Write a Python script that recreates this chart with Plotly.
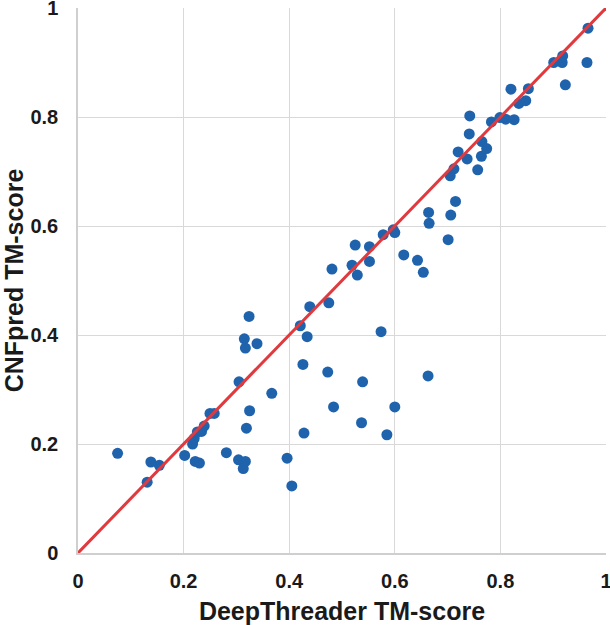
import plotly.graph_objects as go

# DeepThreader TM-score (x) vs CNFpred TM-score (y)
deepthreader = [0.075, 0.138, 0.154, 0.131, 0.202, 0.217, 0.220, 0.222, 0.230, 0.226,
                0.234, 0.239, 0.250, 0.258, 0.281, 0.304, 0.317, 0.313, 0.305, 0.324,
                0.315, 0.317, 0.339, 0.325, 0.319, 0.367, 0.396, 0.405, 0.428, 0.426,
                0.421, 0.434, 0.439, 0.473, 0.475, 0.484, 0.481, 0.537, 0.539, 0.574,
                0.585, 0.600, 0.663, 0.519, 0.525, 0.529, 0.552, 0.552, 0.578, 0.600,
                0.597, 0.617, 0.643, 0.654, 0.664, 0.665, 0.701, 0.706, 0.715, 0.705,
                0.712, 0.720, 0.737, 0.757, 0.741, 0.742, 0.764, 0.774, 0.765, 0.783,
                0.799, 0.810, 0.826, 0.820, 0.835, 0.848, 0.853, 0.901, 0.917, 0.918,
                0.923, 0.964, 0.966]
cnfpred = [0.183, 0.167, 0.161, 0.130, 0.179, 0.200, 0.210, 0.168, 0.165, 0.222,
           0.223, 0.233, 0.256, 0.256, 0.184, 0.171, 0.168, 0.155, 0.314, 0.434,
           0.393, 0.376, 0.384, 0.261, 0.229, 0.293, 0.174, 0.123, 0.220, 0.346,
           0.417, 0.397, 0.452, 0.332, 0.459, 0.268, 0.521, 0.239, 0.314, 0.406,
           0.217, 0.268, 0.325, 0.528, 0.565, 0.510, 0.562, 0.535, 0.584, 0.588,
           0.593, 0.547, 0.537, 0.515, 0.625, 0.605, 0.575, 0.620, 0.645, 0.692,
           0.705, 0.736, 0.723, 0.703, 0.769, 0.802, 0.728, 0.742, 0.755, 0.791,
           0.799, 0.796, 0.795, 0.851, 0.825, 0.830, 0.852, 0.900, 0.900, 0.912,
           0.859, 0.900, 0.963]

diag = [0, 1]
tick_vals = [0, 0.2, 0.4, 0.6, 0.8, 1]
tick_text = ["0", "0.2", "0.4", "0.6", "0.8", "1"]

FONT = "Liberation Sans, Arial, sans-serif"

fig = go.Figure()
fig.add_trace(go.Scatter(
    x=deepthreader, y=cnfpred, mode="markers",
    marker=dict(color="#1f63ad", size=11, line=dict(width=0)),
    cliponaxis=False, showlegend=False,
))
fig.add_trace(go.Scatter(
    x=diag, y=diag, mode="lines",
    line=dict(color="#e0393e", width=3),
    cliponaxis=False, showlegend=False,
))

axis_common = dict(
    range=[0, 1], tickvals=tick_vals, ticktext=tick_text,
    showgrid=True, gridcolor="#d9d9d9", gridwidth=1,
    zeroline=False, showline=True, linecolor="#cfcfcf", linewidth=1.5,
    ticks="", tickfont=dict(family=FONT, size=20, color="#1a1a1a", weight="bold"),
    automargin=False, ticklabeloverflow="allow",
)

fig.update_layout(
    width=610, height=625,
    margin=dict(l=78, r=4, t=8, b=72),
    paper_bgcolor="white", plot_bgcolor="white",
    font=dict(family=FONT),
    xaxis=dict(**axis_common, ticklabelstandoff=9,
               title=dict(text="<b>DeepThreader TM-score</b>",
                          font=dict(family=FONT, size=25, color="#1a1a1a"),
                          standoff=12)),
    yaxis=dict(**axis_common, ticklabelstandoff=14,
               title=dict(text="<b>CNFpred TM-score</b>",
                          font=dict(family=FONT, size=25, color="#1a1a1a"),
                          standoff=11)),
)

fig.write_html("out.html", config={"displayModeBar": False},
               post_script="document.body.style.margin='0';")
